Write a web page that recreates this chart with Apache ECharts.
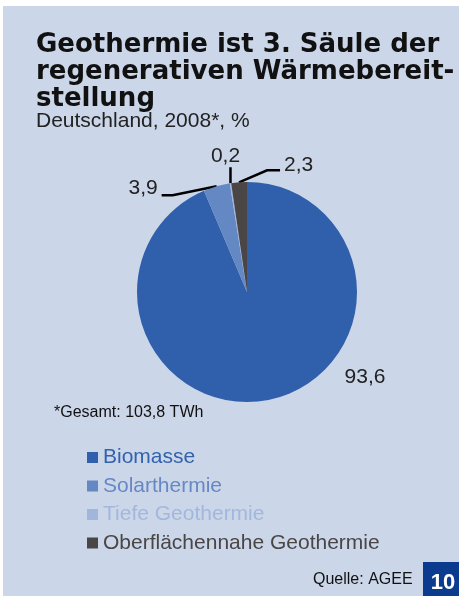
<!DOCTYPE html>
<html><head><meta charset="utf-8">
<script src="https://cdn.jsdelivr.net/npm/echarts@6/dist/echarts.min.js"></script>
<style>html,body{margin:0;padding:0;background:#fff}#c{width:459px;height:596px}</style>
</head><body><div id="c"></div>
<script>
// ---- data ----
const categories = ['Biomasse', 'Solarthermie', 'Tiefe Geothermie', 'Oberflächennahe Geothermie'];
const values = [93.6, 3.9, 0.2, 2.3];
const valueLabels = ['93,6', '3,9', '0,2', '2,3'];
const titleText = 'Geothermie ist 3. Säule der\nregenerativen Wärmebereit-\nstellung';
const subtitleText = 'Deutschland, 2008*, %';
const footnoteText = '*Gesamt: 103,8 TWh';
const sourceText = 'Quelle: AGEE';
const pageNumber = '10';

// ---- style ----
const sliceColors = ['#3060ab', '#6488c4', '#a2b6dc', '#4b4646'];
const legendTextColors = ['#3262ad', '#6688c4', '#a3b7dc', '#4a4646'];
const panelColor = '#cbd6e9';
const pieCenter = [247, 292];
const pieRadius = 110;
// label placement relative to the slice's outer mid-point
const labelStyle = [
  { dx: 96, dy: -23, align: 'center', line: null },
  { dx: -59, dy: 2, align: 'right', line: [[-44, 9], [-55, 9]] },
  { dx: -5, dy: -27, align: 'center', line: [[0, -8], [0, -16]] },
  { dx: 45, dy: -17, align: 'left', line: [[28, -12], [41, -12]] }
];

const total = values.reduce((a, b) => a + b, 0);
function edgePoint(i) {
  let cum = 0;
  for (let k = 0; k < i; k++) cum += values[k];
  const th = (cum + values[i] / 2) / total * Math.PI * 2;
  return [pieCenter[0] + pieRadius * Math.sin(th), pieCenter[1] - pieRadius * Math.cos(th)];
}

const chart = echarts.init(document.getElementById('c'), null, { renderer: 'canvas' });
const sans = 'Liberation Sans, Arial, sans-serif';
chart.setOption({
  backgroundColor: '#ffffff',
  animation: false,
  graphic: [
    { type: 'rect', z: -10, shape: { x: 3, y: 6, width: 456, height: 590 }, style: { fill: panelColor } },
    { type: 'rect', z: 100, shape: { x: 423, y: 562, width: 36, height: 34 }, style: { fill: '#0b3b8f' } },
    { type: 'text', z: 101, x: 443, y: 583, style: { text: pageNumber, fill: '#ffffff', font: 'bold 22px ' + sans, textAlign: 'center', textVerticalAlign: 'middle' } }
  ],
  title: [
    { text: titleText, left: 36, top: 32, padding: 0,
      textStyle: { fontFamily: 'DejaVu Sans', fontWeight: 'bold', fontSize: 26, lineHeight: 27, color: '#111111' } },
    { text: subtitleText, left: 36, top: 111, padding: 0,
      textStyle: { fontFamily: sans, fontWeight: 'normal', fontSize: 21, color: '#222222' } },
    { text: footnoteText, left: 54, top: 405, padding: 0,
      textStyle: { fontFamily: sans, fontWeight: 'normal', fontSize: 16, color: '#111111' } },
    { text: sourceText, left: 313, top: 572, padding: 0,
      textStyle: { fontFamily: sans, fontWeight: 'normal', fontSize: 16, color: '#111111' } }
  ],
  legend: {
    orient: 'vertical', left: 87, top: 447, padding: 0,
    itemWidth: 11, itemHeight: 11, itemGap: 7.5, icon: 'rect', selectedMode: false,
    textStyle: { fontFamily: sans, fontSize: 21, lineHeight: 21 },
    data: categories.map((c, i) => ({ name: c, textStyle: { color: legendTextColors[i] } }))
  },
  series: [{
    type: 'pie',
    center: pieCenter,
    radius: pieRadius,
    startAngle: 90,
    clockwise: true,
    avoidLabelOverlap: false,
    minShowLabelAngle: 0,
    label: {
      show: true, position: 'outside',
      formatter: p => valueLabels[p.dataIndex],
      fontFamily: sans, fontSize: 21, color: '#222222'
    },
    labelLine: { show: true, length: 10, length2: 10, lineStyle: { color: '#000000', width: 2.5 } },
    labelLayout: function (p) {
      const s = labelStyle[p.dataIndex];
      const e = edgePoint(p.dataIndex);
      const r = { x: e[0] + s.dx, y: e[1] + s.dy, align: s.align, verticalAlign: 'middle' };
      if (s.line) {
        r.labelLinePoints = [[e[0], e[1]], [e[0] + s.line[0][0], e[1] + s.line[0][1]], [e[0] + s.line[1][0], e[1] + s.line[1][1]]];
      }
      return r;
    },
    emphasis: { disabled: true },
    data: categories.map((c, i) => ({
      name: c, value: values[i],
      itemStyle: { color: sliceColors[i] },
      labelLine: { show: labelStyle[i].line !== null }
    }))
  }]
});
</script></body></html>
